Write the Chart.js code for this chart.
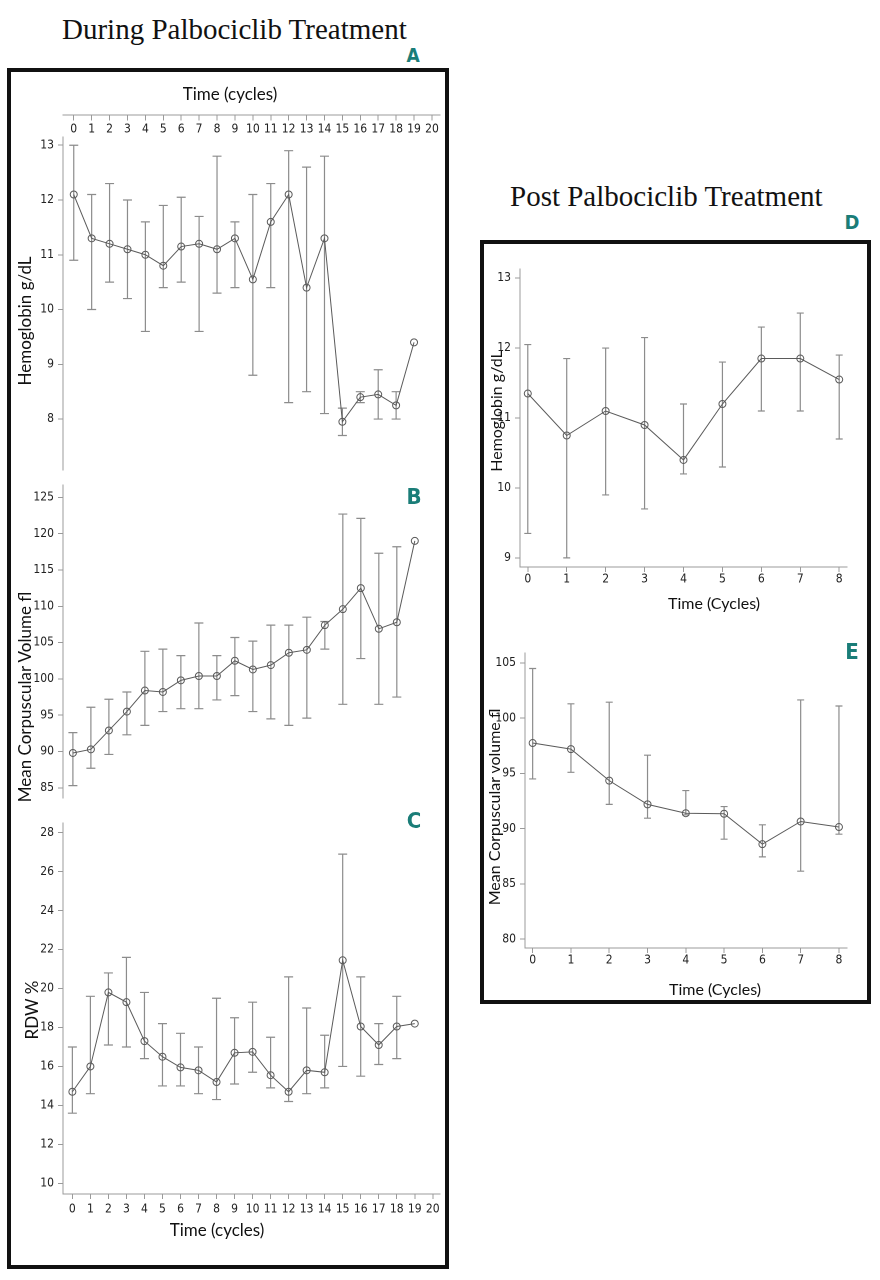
<!DOCTYPE html>
<html><head><meta charset="utf-8">
<script src="https://cdn.jsdelivr.net/npm/chart.js@4"></script>
<style>
html,body{margin:0;padding:0;background:#fff;}
#page{position:relative;width:880px;height:1280px;overflow:hidden;background:#fff;}
canvas{position:absolute;}
.t{position:absolute;white-space:nowrap;}
.ttl{font-family:'Liberation Serif','Times New Roman',serif;font-size:29px;line-height:29px;color:#111;}
.lab{font-family:'Liberation Sans Narrow','DejaVu Sans Condensed',sans-serif;font-weight:bold;color:#1a7d78;line-height:1;transform:translate(-50%,-50%);}
.ax{font-family:Lato,'Open Sans',sans-serif;color:#111;line-height:1;transform:translate(-50%,-50%);}
.ay{font-family:Lato,'Open Sans',sans-serif;color:#111;line-height:1;transform:translate(-50%,-50%) rotate(-90deg);}
.box{position:absolute;border:4px solid #111;box-sizing:border-box;}
</style></head>
<body>
<div id="page">
  <div class="box" style="left:7px;top:68px;width:442px;height:1201px;"></div>
  <div class="box" style="left:480px;top:240px;width:391px;height:764px;"></div>
  <div class="t ttl" style="left:62px;top:15px;">During Palbociclib Treatment</div>
  <div class="t ttl" style="left:510px;top:182px;">Post Palbociclib Treatment</div>
  <div class="t lab" style="left:413px;top:55px;font-size:19px;">A</div>
  <div class="t lab" style="left:414px;top:497px;font-size:22px;">B</div>
  <div class="t lab" style="left:414px;top:821px;font-size:22px;">C</div>
  <div class="t lab" style="left:852px;top:222px;font-size:20px;">D</div>
  <div class="t lab" style="left:852px;top:652px;font-size:22px;">E</div>
  <div class="t ax" style="left:230px;top:93px;font-size:17px;">Time (cycles)</div>
  <div class="t ay" style="left:24px;top:321px;font-size:17px;">Hemoglobin g/dL</div>
  <div class="t ay" style="left:24px;top:697px;font-size:17px;">Mean Corpuscular Volume fl</div>
  <div class="t ay" style="left:31px;top:1010px;font-size:17px;">RDW %</div>
  <div class="t ax" style="left:217px;top:1229px;font-size:17px;">Time (cycles)</div>
  <div class="t ay" style="left:496px;top:411px;font-size:16px;">Hemoglobin g/dL</div>
  <div class="t ax" style="left:714px;top:603px;font-size:16px;">Time (Cycles)</div>
  <div class="t ay" style="left:494px;top:807px;font-size:16px;">Mean Corpuscular volume fl</div>
  <div class="t ax" style="left:715px;top:989px;font-size:16px;">Time (Cycles)</div>
</div>
<script>
// ---------- data ----------
const cyclesDuring = [0,1,2,3,4,5,6,7,8,9,10,11,12,13,14,15,16,17,18,19];
const cyclesPost = [0,1,2,3,4,5,6,7,8];

const hbDuringMean = [12.1, 11.3, 11.2, 11.1, 11.0, 10.8, 11.15, 11.2, 11.1, 11.3, 10.55, 11.6, 12.1, 10.4, 11.3, 7.95, 8.4, 8.45, 8.25, 9.4];
const hbDuringLow  = [10.9, 10.0, 10.5, 10.2, 9.6, 10.4, 10.5, 9.6, 10.3, 10.4, 8.8, 10.4, 8.3, 8.5, 8.1, 7.7, 8.3, 8.0, 8.0, null];
const hbDuringHigh = [13.0, 12.1, 12.3, 12.0, 11.6, 11.9, 12.05, 11.7, 12.8, 11.6, 12.1, 12.3, 12.9, 12.6, 12.8, 8.2, 8.5, 8.9, 8.5, null];

const mcvDuringMean = [89.8, 90.3, 92.9, 95.5, 98.4, 98.2, 99.8, 100.4, 100.4, 102.5, 101.3, 101.9, 103.6, 104.0, 107.4, 109.6, 112.5, 106.9, 107.8, 119.0];
const mcvDuringLow  = [85.3, 87.7, 89.6, 92.3, 93.6, 95.5, 95.9, 95.9, 97.1, 97.7, 95.5, 94.5, 93.6, 94.6, 104.1, 96.5, 102.8, 96.5, 97.5, null];
const mcvDuringHigh = [92.6, 96.1, 97.2, 98.2, 103.8, 104.1, 103.2, 107.7, 103.2, 105.7, 105.2, 107.4, 107.4, 108.5, 107.9, 122.7, 122.1, 117.3, 118.2, null];

const rdwMean = [14.7, 16.0, 19.8, 19.3, 17.3, 16.5, 15.95, 15.8, 15.2, 16.7, 16.75, 15.55, 14.7, 15.8, 15.7, 21.45, 18.05, 17.1, 18.05, 18.2];
const rdwLow  = [13.6, 14.6, 17.1, 17.0, 16.4, 15.0, 15.0, 14.6, 14.3, 15.1, 15.7, 14.9, 14.2, 14.6, 14.9, 16.0, 15.5, 16.1, 16.4, null];
const rdwHigh = [17.0, 19.6, 20.8, 21.6, 19.8, 18.2, 17.7, 17.0, 19.5, 18.5, 19.3, 17.5, 20.6, 19.0, 17.6, 26.9, 20.6, 18.2, 19.6, null];

const hbPostMean = [11.35, 10.75, 11.1, 10.9, 10.4, 11.2, 11.85, 11.85, 11.55];
const hbPostLow  = [9.35, 9.0, 9.9, 9.7, 10.2, 10.3, 11.1, 11.1, 10.7];
const hbPostHigh = [12.05, 11.85, 12.0, 12.15, 11.2, 11.8, 12.3, 12.5, 11.9];

const mcvPostMean = [97.75, 97.2, 94.35, 92.2, 91.4, 91.35, 88.6, 90.65, 90.15];
const mcvPostLow  = [94.5, 95.1, 92.2, 90.95, 91.25, 89.05, 87.45, 86.15, 89.5];
const mcvPostHigh = [104.5, 101.3, 101.45, 96.65, 93.45, 92.0, 90.35, 101.65, 101.1];

// tick labels
const xTicksDuring = [0,1,2,3,4,5,6,7,8,9,10,11,12,13,14,15,16,17,18,19,20];
const xTicksPost = [0,1,2,3,4,5,6,7,8];
const hbDuringTicks = [8,9,10,11,12,13];
const mcvDuringTicks = [85,90,95,100,105,110,115,120,125];
const rdwTicks = [10,12,14,16,18,20,22,24,26,28];
const hbPostTicks = [9,10,11,12,13];
const mcvPostTicks = [80,85,90,95,100,105];

// ---------- drawing ----------
const page = document.getElementById('page');
const AXIS = '#9a9a9a';
const LINE = '#5a5a5a';
const ERR = '#8c8c8c';
const TICKFONT = "'Liberation Sans Narrow','DejaVu Sans Condensed',Arial,sans-serif";

const errorBars = {
  id: 'errorBars',
  beforeDatasetsDraw(chart) {
    const {ctx, scales} = chart;
    const xs = scales.x, ys = scales.y;
    const ds = chart.data.datasets[0];
    const cap = ds.errCap;
    ctx.save();
    ctx.strokeStyle = ERR;
    ctx.lineWidth = 1.2;
    ds.data.forEach((p, i) => {
      const lo = ds.errLow[i], hi = ds.errHigh[i];
      if (lo == null || hi == null) return;
      const px = xs.getPixelForValue(p.x);
      const y1 = ys.getPixelForValue(lo), y2 = ys.getPixelForValue(hi);
      ctx.beginPath();
      ctx.moveTo(px, y1); ctx.lineTo(px, y2);
      ctx.moveTo(px - cap, y1); ctx.lineTo(px + cap, y1);
      ctx.moveTo(px - cap, y2); ctx.lineTo(px + cap, y2);
      ctx.stroke();
    });
    ctx.restore();
  }
};

function makeChart(rect, area, o) {
  const cv = document.createElement('canvas');
  cv.width = rect.w; cv.height = rect.h;
  cv.style.left = rect.x + 'px'; cv.style.top = rect.y + 'px';
  cv.style.width = rect.w + 'px'; cv.style.height = rect.h + 'px';
  page.insertBefore(cv, page.firstChild);
  const yW = area.l - rect.x;
  const padTop = area.t - rect.y;
  const padRight = rect.x + rect.w - area.r;
  const bottomSpace = rect.y + rect.h - area.b;
  const xMode = o.xMode; // 'bottom' | 'topInside' | 'none'
  const xScale = {
    type: 'linear',
    min: o.xMin, max: o.xMax,
    display: xMode !== 'none',
    position: xMode === 'topInside' ? {y: o.yMax} : 'bottom',
    afterBuildTicks: s => { s.ticks = o.xTicks.map(v => ({value: v})); },
    grid: {display: true, drawOnChartArea: false, drawTicks: true, tickLength: 5, color: AXIS, lineWidth: 1},
    border: {display: true, color: AXIS, width: 1},
    ticks: {color: '#222', font: {family: TICKFONT, size: o.tickSize}, padding: o.xPad, maxRotation: 0, autoSkip: false}
  };
  if (xMode === 'bottom') xScale.afterFit = s => { s.height = bottomSpace; };
  const yMaxScale = xMode === 'topInside' ? o.yAxisTop : o.yMax;
  return new Chart(cv, {
    type: 'line',
    data: {
      datasets: [{
        data: o.xs.map((x, i) => ({x: x, y: o.mean[i]})),
        errLow: o.low, errHigh: o.high, errCap: o.cap,
        borderColor: LINE, borderWidth: 1, tension: 0,
        pointRadius: o.pr, pointBorderColor: LINE, pointBackgroundColor: 'rgba(0,0,0,0)',
        pointBorderWidth: 1, fill: false, clip: false
      }]
    },
    options: {
      responsive: false, animation: false, devicePixelRatio: 2,
      layout: {padding: {left: 0, top: padTop, right: padRight, bottom: xMode === 'bottom' ? 0 : bottomSpace}},
      plugins: {legend: {display: false}, tooltip: {enabled: false}},
      scales: {
        x: xScale,
        y: {
          type: 'linear', min: o.yMin, max: yMaxScale,
          afterBuildTicks: s => { s.ticks = o.yTicks.map(v => ({value: v})); },
          afterFit: s => { s.width = yW; },
          grid: {display: true, drawOnChartArea: false, drawTicks: true, tickLength: 5, color: AXIS, lineWidth: 1},
          border: {display: true, color: AXIS, width: 1},
          ticks: {color: '#222', font: {family: TICKFONT, size: o.tickSize}, padding: 4}
        }
      }
    },
    plugins: [errorBars]
  });
}

// A: hemoglobin during
makeChart({x: 12, y: 100, w: 437, h: 382}, {l: 63, t: 137, r: 440, b: 470}, {
  xs: cyclesDuring, mean: hbDuringMean, low: hbDuringLow, high: hbDuringHigh,
  xTicks: xTicksDuring, yTicks: hbDuringTicks, xMin: -0.6, xMax: 20.45,
  yMin: 7.07, yAxisTop: 13.15, yMax: 13.55, xMode: 'topInside', xPad: 2, tickSize: 12, cap: 4.5, pr: 3.5
});
// B: MCV during
makeChart({x: 12, y: 470, w: 437, h: 340}, {l: 63, t: 485, r: 440, b: 798}, {
  xs: cyclesDuring, mean: mcvDuringMean, low: mcvDuringLow, high: mcvDuringHigh,
  xTicks: xTicksDuring, yTicks: mcvDuringTicks, xMin: -0.55, xMax: 20.4,
  yMin: 83.6, yMax: 126.7, xMode: 'none', xPad: 2, tickSize: 12, cap: 4.5, pr: 3.5
});
// C: RDW during
makeChart({x: 12, y: 805, w: 437, h: 420}, {l: 63, t: 823, r: 440, b: 1194}, {
  xs: cyclesDuring, mean: rdwMean, low: rdwLow, high: rdwHigh,
  xTicks: xTicksDuring, yTicks: rdwTicks, xMin: -0.52, xMax: 20.4,
  yMin: 9.45, yMax: 28.5, xMode: 'bottom', xPad: 3, tickSize: 12, cap: 4.5, pr: 3.5
});
// D: hemoglobin post
makeChart({x: 485, y: 255, w: 381, h: 340}, {l: 520, t: 269, r: 847, b: 567}, {
  xs: cyclesPost, mean: hbPostMean, low: hbPostLow, high: hbPostHigh,
  xTicks: xTicksPost, yTicks: hbPostTicks, xMin: -0.2, xMax: 8.2,
  yMin: 8.87, yMax: 13.13, xMode: 'bottom', xPad: 0, tickSize: 12, cap: 3.5, pr: 3.5
});
// E: MCV post
makeChart({x: 485, y: 638, w: 381, h: 337}, {l: 525, t: 653, r: 847, b: 948}, {
  xs: cyclesPost, mean: mcvPostMean, low: mcvPostLow, high: mcvPostHigh,
  xTicks: xTicksPost, yTicks: mcvPostTicks, xMin: -0.2, xMax: 8.21,
  yMin: 79.2, yMax: 105.9, xMode: 'bottom', xPad: 0, tickSize: 12, cap: 3.5, pr: 3.5
});
</script>
</body></html>
